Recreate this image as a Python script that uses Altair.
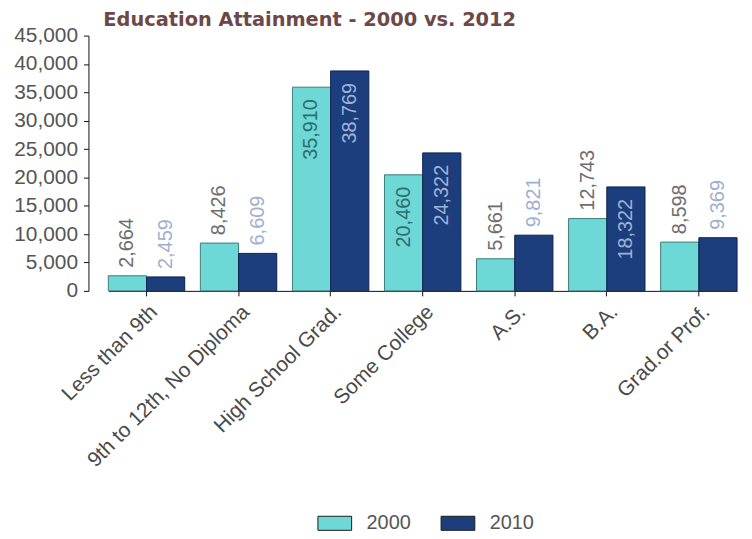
import altair as alt
import pandas as pd

categories = ["Less than 9th", "9th to 12th, No Diploma", "High School Grad.",
              "Some College", "A.S.", "B.A.", "Grad.or Prof."]
v2000 = [2664, 8426, 35910, 20460, 5661, 12743, 8598]
v2010 = [2459, 6609, 38769, 24322, 9821, 18322, 9369]
years = ["2000", "2010"]
y_ticks = [0, 5000, 10000, 15000, 20000, 25000, 30000, 35000, 40000, 45000]

rows = []
for c, a, b in zip(categories, v2000, v2010):
    rows.append({"cat": c, "year": "2000", "value": a})
    rows.append({"cat": c, "year": "2010", "value": b})
df = pd.DataFrame(rows)

FONT = "Liberation Sans"

x = alt.X("cat:N", sort=categories, title=None,
          scale=alt.Scale(range=[20, 653], paddingInner=0.17, paddingOuter=0),
          axis=alt.Axis(labelAngle=315, labelFontSize=21, labelColor="#4a4a4a",
                        labelFont=FONT, domainColor="#111", tickColor="#111",
                        tickSize=5, labelPadding=5, labelOverlap=False, labelLimit=0))
y = alt.Y("value:Q", title=None,
          scale=alt.Scale(domain=[0, 45000], nice=False),
          axis=alt.Axis(values=y_ticks, format=",.0f", grid=False, labelFontSize=21,
                        labelColor="#555", labelFont=FONT, domainColor="#111",
                        tickColor="#111", tickSize=5, labelPadding=6))
xo = alt.XOffset("year:N", sort=years, scale=alt.Scale(paddingInner=0, paddingOuter=0))

base = alt.Chart(df).encode(x=x, xOffset=xo, y=y)

bars = base.mark_bar(strokeWidth=1).encode(
    color=alt.Color("year:N", sort=years, title=None,
                    scale=alt.Scale(domain=years, range=["#6dd8d5", "#1d3e7d"]),
                    legend=alt.Legend(orient="none", legendX=233, legendY=476,
                                      direction="horizontal",
                                      symbolType="M-1.2,-0.5L1.2,-0.5L1.2,0.5L-1.2,0.5Z",
                                      symbolSize=800, symbolStrokeColor="#1a1a1a",
                                      symbolStrokeWidth=1, labelFontSize=20,
                                      labelFont=FONT, labelColor="#555",
                                      labelOffset=17, columnPadding=28)),
    stroke=alt.condition(alt.datum.year == "2000", alt.value("#3a7d7b"), alt.value("#0c2150")),
)

labels_base = base.transform_calculate(inside="datum.value > 15000")

out_lbl = labels_base.transform_filter("!datum.inside").mark_text(
    angle=270, align="left", baseline="middle", dx=8, fontSize=20, font=FONT
).encode(
    text=alt.Text("value:Q", format=","),
    color=alt.condition(alt.datum.year == "2000", alt.value("#6e6e6e"), alt.value("#9fb0cc")),
)

in_lbl = labels_base.transform_filter("datum.inside").mark_text(
    angle=270, align="right", baseline="middle", dx=-12, fontSize=20, font=FONT
).encode(
    text=alt.Text("value:Q", format=","),
    color=alt.condition(alt.datum.year == "2000", alt.value("#2f6d6d"), alt.value("#9db2d8")),
)

chart = alt.layer(bars, out_lbl, in_lbl).properties(
    width=660, height=257,
    title=alt.TitleParams("Education Attainment - 2000 vs. 2012", anchor="start",
                          frame="group",
                          font="DejaVu Sans", fontSize=19.5, fontWeight="bold",
                          color="#6e4848", dx=15, offset=-6),
    padding={"left": 5, "top": 0, "right": 0, "bottom": 0},
).configure_view(stroke=None)

chart.save("out.html", embed_options={"renderer": "svg", "actions": False})
